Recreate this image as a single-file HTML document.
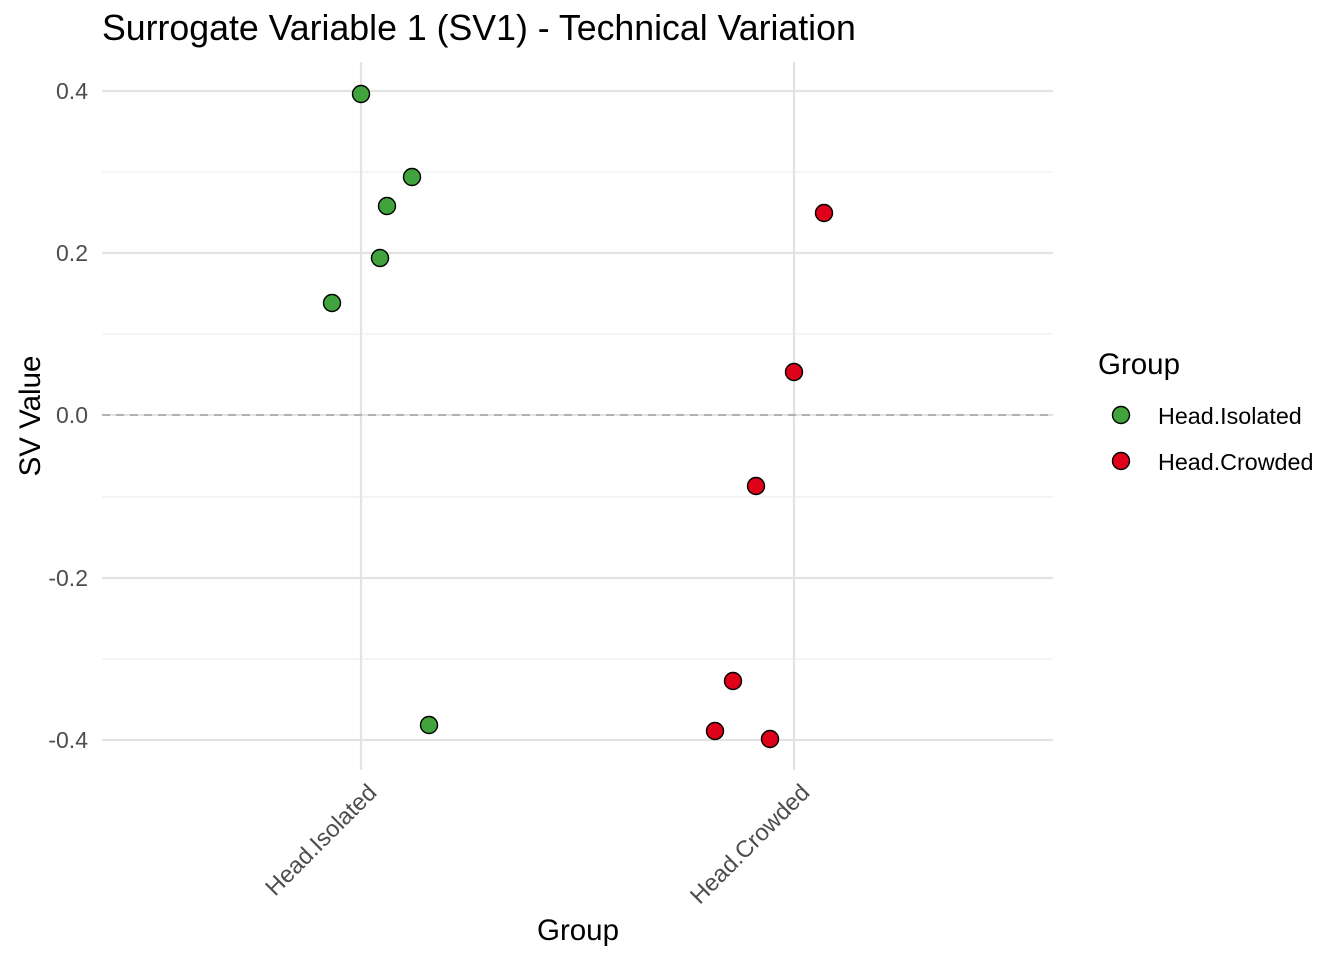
<!DOCTYPE html>
<html><head><meta charset="utf-8"><style>
html,body{margin:0;padding:0;background:#fff;}
svg{display:block;font-family:"Liberation Sans",sans-serif;}
</style></head><body>
<svg width="1344" height="960" viewBox="0 0 1344 960" xmlns="http://www.w3.org/2000/svg">
<rect width="1344" height="960" fill="#fff"/>
<g stroke="#ebebeb" stroke-width="1.1">
<line x1="102" x2="1053" y1="172" y2="172"/><line x1="102" x2="1053" y1="334" y2="334"/>
<line x1="102" x2="1053" y1="497" y2="497"/><line x1="102" x2="1053" y1="659" y2="659"/>
</g>
<g stroke="#e3e3e3" stroke-width="2.2">
<line x1="102" x2="1053" y1="91" y2="91"/><line x1="102" x2="1053" y1="253" y2="253"/>
<line x1="102" x2="1053" y1="415" y2="415"/><line x1="102" x2="1053" y1="578" y2="578"/>
<line x1="102" x2="1053" y1="740" y2="740"/>
<line x1="361" x2="361" y1="62" y2="770"/><line x1="794" x2="794" y1="62" y2="770"/>
</g>
<line x1="102" x2="1053" y1="415" y2="415" stroke="#b3b3b3" stroke-width="2" stroke-dasharray="8,6"/>
<g fill="#4d4d4d" font-size="23" text-anchor="end">
<text x="88" y="99">0.4</text><text x="88" y="261">0.2</text><text x="88" y="423">0.0</text>
<text x="88" y="586">-0.2</text><text x="88" y="748">-0.4</text>
</g>
<g fill="#4d4d4d" font-size="23.6" text-anchor="end">
<text transform="translate(378,794) rotate(-45)">Head.Isolated</text>
<text transform="translate(811,794) rotate(-45)">Head.Crowded</text>
</g>
<g stroke="#000" stroke-width="1.4" fill="#41a33c">
<circle cx="361" cy="94" r="8.5"/><circle cx="412" cy="177" r="8.5"/><circle cx="387" cy="206" r="8.5"/>
<circle cx="380" cy="258" r="8.5"/><circle cx="332" cy="303" r="8.5"/><circle cx="429" cy="725" r="8.5"/>
</g>
<g stroke="#000" stroke-width="1.4" fill="#df0019">
<circle cx="824" cy="213" r="8.5"/><circle cx="794" cy="372" r="8.5"/><circle cx="756" cy="486" r="8.5"/>
<circle cx="733" cy="681" r="8.5"/><circle cx="715" cy="731" r="8.5"/><circle cx="770" cy="739" r="8.5"/>
</g>
<text x="102" y="40" font-size="35.7" fill="#000">Surrogate Variable 1 (SV1) - Technical Variation</text>
<text x="578" y="940" font-size="29.5" text-anchor="middle">Group</text>
<text transform="translate(40,416) rotate(-90)" font-size="29.5" text-anchor="middle">SV Value</text>
<text x="1098" y="374" font-size="29.5">Group</text>
<circle cx="1121" cy="415" r="8.5" fill="#41a33c" stroke="#000" stroke-width="1.4"/>
<circle cx="1121" cy="461" r="8.5" fill="#df0019" stroke="#000" stroke-width="1.4"/>
<text x="1158" y="424" font-size="23.3">Head.Isolated</text>
<text x="1158" y="470" font-size="23.3">Head.Crowded</text>
</svg>
</body></html>
